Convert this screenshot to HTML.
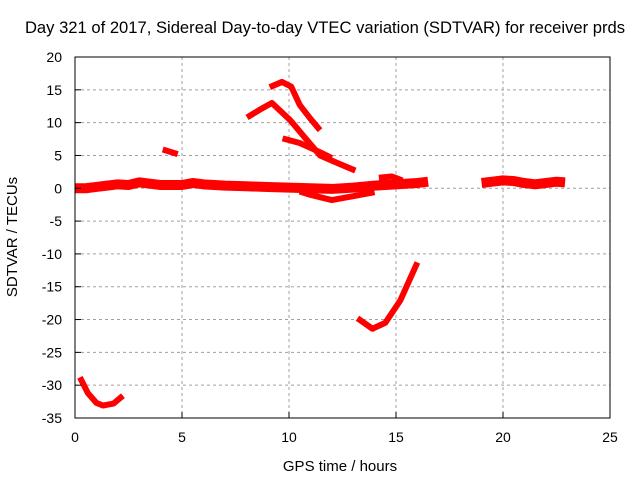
<!DOCTYPE html>
<html><head><meta charset="utf-8"><style>
body{margin:0;background:#fff}
svg text{font-family:"Liberation Sans",sans-serif;font-size:14px;fill:#000}
</style></head><body>
<svg id="chart" width="640" height="480" xmlns="http://www.w3.org/2000/svg">
<rect width="640" height="480" fill="#fff"/>
<text x="325" y="33" text-anchor="middle" style="font-size:16.6px">Day 321 of 2017, Sidereal Day-to-day VTEC variation (SDTVAR) for receiver prds</text>
<text x="340" y="471" text-anchor="middle" style="font-size:15px">GPS time / hours</text>
<text transform="translate(17,237) rotate(-90)" text-anchor="middle" style="font-size:15px">SDTVAR / TECUs</text>
<g id="grid"></g><g id="series"></g>
<rect x="75" y="57" width="535" height="361" fill="none" stroke="#000" stroke-width="1"/>
<g id="ticks"></g>
</svg>
<script>
const xTicks=[0,5,10,15,20,25];
const yTicks=[20,15,10,5,0,-5,-10,-15,-20,-25,-30,-35];
const mainBand=[[0,0],[0.5,0],[1,0.2],[1.5,0.4],[2,0.6],[2.5,0.5],[3,0.9],[3.5,0.7],[4,0.5],[5,0.5],[5.5,0.8],[6,0.6],[7,0.4],[8,0.3],[9,0.2],[10,0.1],[11,0],[12,-0.1],[13,0.1],[14,0.4],[15,0.6],[16,0.8],[16.5,1.0]];
const lowerBranch=[[10.5,-0.5],[11,-1],[12,-1.8],[13,-1.2],[14,-0.6]];
const upperBranch=[[14.2,1.6],[14.8,1.8],[15.3,1.2]];
const lateBand=[[19,0.8],[19.5,1],[20,1.2],[20.5,1.1],[21,0.8],[21.5,0.6],[22,0.8],[22.5,1],[22.9,0.9]];
const shortSeg=[[4.1,5.9],[4.8,5.2]];
const arcHigh=[[9.1,15.4],[9.67,16.2],[10.1,15.5],[10.5,12.7],[11,10.6],[11.45,8.85]];
const arcMid=[[8.04,10.8],[8.6,11.9],[9.2,13],[10.05,10.4],[10.8,7.5],[11.45,5.0],[12.3,3.8],[13.1,2.7]];
const arcLow=[[9.7,7.6],[10.5,6.9],[11.45,5.5],[12,4.6]];
const bottomLeft=[[0.23,-28.8],[0.6,-31.2],[1.0,-32.7],[1.3,-33.1],[1.8,-32.8],[2.24,-31.6]];
const rightDip=[[13.2,-19.8],[13.9,-21.4],[14.5,-20.5],[15.2,-17.1],[16.0,-11.3]];
const allSeries=[mainBand,lowerBranch,upperBranch,lateBand,shortSeg,arcHigh,arcMid,arcLow,bottomLeft,rightDip];
const NS="http://www.w3.org/2000/svg";
const xs=t=>75+t*535/25, ys=v=>418-(v+35)*361/55;
const grid=document.getElementById('grid'),ticks=document.getElementById('ticks'),ser=document.getElementById('series');
function mk(tag,attrs,parent){const e=document.createElementNS(NS,tag);for(const k in attrs)e.setAttribute(k,attrs[k]);parent.appendChild(e);return e;}
xTicks.forEach(t=>{
 if(t>0&&t<25){const g=mk('line',{x1:xs(t),x2:xs(t),y1:57,y2:418,stroke:'#a0a0a0','stroke-dasharray':'3,3'},grid);
 
 }
 const l=mk('text',{x:xs(t),y:442,'text-anchor':'middle'},ticks);l.textContent=t;
 
 
 mk('line',{x1:xs(t),x2:xs(t),y1:418,y2:412,stroke:'#000'},ticks);
});
yTicks.forEach(v=>{
 if(v<20&&v>-35){const g=mk('line',{x1:75,x2:610,y1:ys(v),y2:ys(v),stroke:'#a0a0a0','stroke-dasharray':'3,3'},grid);
 
 }
 const l=mk('text',{x:62,y:ys(v)+5,'text-anchor':'end'},ticks);l.textContent=v;
 
 
 mk('line',{x1:75,x2:81,y1:ys(v),y2:ys(v),stroke:'#000'},ticks);
});
allSeries.forEach((s,i)=>{
 const p=mk('polyline',{points:s.map(d=>xs(d[0])+','+ys(d[1])).join(' '),fill:'none',stroke:'#ff0000','stroke-width':(i===0||i===3)?10:6,'stroke-linejoin':'round'},ser);
 
 
});
</script>
</body></html>
